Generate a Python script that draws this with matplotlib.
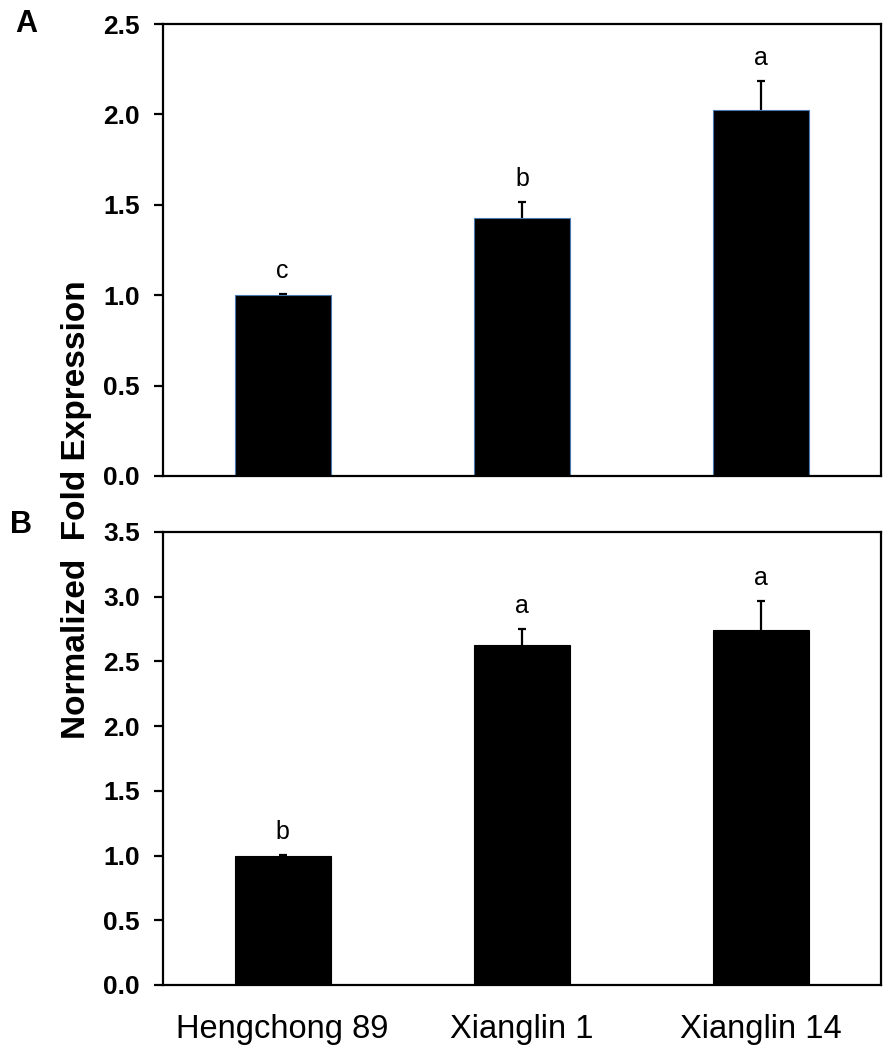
import numpy as np
import matplotlib.pyplot as plt

plt.rcParams['font.family'] = ['Liberation Sans', 'DejaVu Sans']

# 品种和数据
cultivars = ['Hengchong 89', 'Xianglin 1', 'Xianglin 14']

vals_a = [1.00, 1.425, 2.024]
err_a = [0.005, 0.092, 0.162]
sig_a = ['c', 'b', 'a']

vals_b = [1.00, 2.626, 2.742]
err_b = [0.008, 0.124, 0.222]
sig_b = ['b', 'a', 'a']

yticks_a = [0.0, 0.5, 1.0, 1.5, 2.0, 2.5]
yticks_b = [0.0, 0.5, 1.0, 1.5, 2.0, 2.5, 3.0, 3.5]


def draw_panel(ax, vals, errs, sigs, yticks, edge, show_x):
    x = np.arange(len(vals))
    ax.bar(x, vals, width=0.4, color='black', edgecolor=edge, linewidth=0.8, zorder=2)
    # 对称误差线画在柱子下面，只露出上半部分
    ax.errorbar(x, vals, yerr=errs, fmt='none',
                ecolor='black', elinewidth=1.6, capsize=3, capthick=1.6, zorder=1)
    for xi, v, e, s in zip(x, vals, errs, sigs):
        ax.annotate(s, (xi, v + e), xytext=(0, 16.5), textcoords='offset points',
                    ha='center', va='center', fontsize=18)
    ax.set_xlim(-0.5, 2.5)
    ax.set_ylim(yticks[0], yticks[-1])
    ax.set_yticks(yticks)
    ax.set_yticklabels([f'{t:.1f}' for t in yticks], fontsize=19, fontweight='bold')
    for sp in ax.spines.values():
        sp.set_linewidth(1.6)
        sp.set_zorder(4)
    ax.tick_params(axis='y', direction='out', length=6.5, width=1.6, pad=10)
    ax.tick_params(axis='x', length=0)
    ax.set_xticks(x)
    if show_x:
        ax.set_xticklabels(cultivars, fontsize=23.5)
        ax.tick_params(axis='x', pad=21)
    else:
        ax.set_xticklabels([])


fig = plt.figure(figsize=(8.96, 10.58), dpi=100)
ax_a = fig.add_axes([0.1819, 0.5501, 0.8013, 0.4272])
ax_b = fig.add_axes([0.1819, 0.0690, 0.8013, 0.4282])

draw_panel(ax_a, vals_a, err_a, sig_a, yticks_a, '#4a78b0', False)
draw_panel(ax_b, vals_b, err_b, sig_b, yticks_b, 'black', True)

fig.text(26 / 896, 1 - 24 / 1058, 'A', fontsize=22, fontweight='bold', ha='center', va='center')
fig.text(21 / 896, 1 - 525 / 1058, 'B', fontsize=22, fontweight='bold', ha='center', va='center')
fig.text(77 / 896, 1 - 510 / 1058, 'Normalized  Fold Expression', rotation=90,
         fontsize=24, fontweight='bold', ha='center', va='center')

fig.savefig('out.png', dpi=100)
